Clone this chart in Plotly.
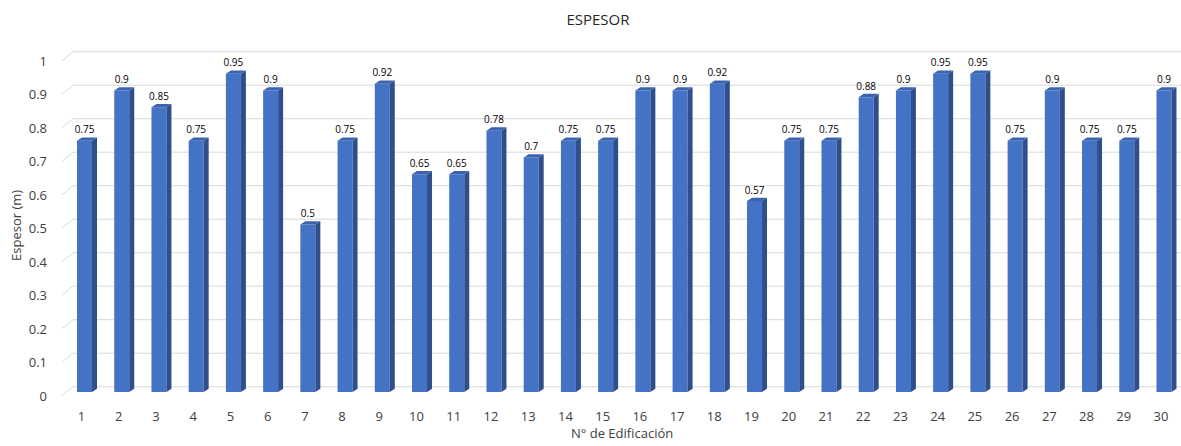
import plotly.graph_objects as go

# Building number and measured thickness (m)
edificaciones = list(range(1, 31))
espesor = [0.75, 0.9, 0.85, 0.75, 0.95, 0.9, 0.5, 0.75, 0.92, 0.65,
           0.65, 0.78, 0.7, 0.75, 0.75, 0.9, 0.9, 0.92, 0.57, 0.75,
           0.75, 0.88, 0.9, 0.95, 0.95, 0.75, 0.9, 0.75, 0.75, 0.9]
y_ticks = [0, 0.1, 0.2, 0.3, 0.4, 0.5, 0.6, 0.7, 0.8, 0.9, 1]
y_tick_text = ["0", "0.1", "0.2", "0.3", "0.4", "0.5", "0.6", "0.7", "0.8", "0.9", "1"]

FONT = "Open Sans"
FRONT = "#4472C4"
SIDE = "#2E4F8C"
TOP = "#3A64AF"
GRID = "#D9D9D9"

# geometry of the pseudo-3D columns (data units)
W = 0.403        # front face width
DX = 0.134       # depth offset to the right
DY = 0.0099      # depth offset upwards
X0, X1 = 0.395, 30.457
Y0, Y1 = -0.0239, 1.0507
WALL_DX = 0.296  # back-wall offset
WALL_DY = 0.0158
FLOOR_DY = -0.011
LABEL_DY = 0.015  # lift of value labels above the column top

fig = go.Figure()

# front faces
fig.add_trace(go.Bar(
    x=edificaciones, y=espesor, width=W,
    marker=dict(color=FRONT, line=dict(width=0)),
    hoverinfo="x+y",
))

# side faces
sx, sy = [], []
for xc, v in zip(edificaciones, espesor):
    r = xc + W / 2
    sx += [r, r + DX, r + DX, r, r, None]
    sy += [0, DY, v + DY, v, 0, None]
fig.add_trace(go.Scatter(x=sx, y=sy, mode="lines", fill="toself",
                         fillcolor=SIDE, line=dict(width=0, color=SIDE),
                         hoverinfo="skip"))

# top faces
tx, ty = [], []
for xc, v in zip(edificaciones, espesor):
    l, r = xc - W / 2, xc + W / 2
    tx += [l, l + DX, r + DX, r, l, None]
    ty += [v, v + DY, v + DY, v, v, None]
fig.add_trace(go.Scatter(x=tx, y=ty, mode="lines", fill="toself",
                         fillcolor=TOP, line=dict(width=0, color=TOP),
                         hoverinfo="skip"))

# value labels
fig.add_trace(go.Scatter(
    x=edificaciones, y=[v + LABEL_DY for v in espesor], mode="text",
    text=[f"{v:g}" for v in espesor], textposition="top center",
    textfont=dict(family=FONT, size=10, color="#000000"),
    hoverinfo="skip",
))

# back-wall gridlines with their floor stubs
shapes = []
for t in y_ticks:
    shapes.append(dict(type="line", xref="x", yref="y", layer="below",
                       x0=X0 + WALL_DX, x1=X1, y0=t + WALL_DY, y1=t + WALL_DY,
                       line=dict(color=GRID, width=1)))
    shapes.append(dict(type="line", xref="x", yref="y", layer="below",
                       x0=X0, x1=X0 + WALL_DX, y0=t + FLOOR_DY, y1=t + WALL_DY,
                       line=dict(color=GRID, width=1)))

fig.update_layout(
    width=1181, height=446,
    margin=dict(l=62, r=0, t=40, b=46),
    paper_bgcolor="white", plot_bgcolor="white",
    showlegend=False,
    shapes=shapes,
    title=dict(text="ESPESOR", x=598 / 1181, xanchor="center",
               y=1 - 20 / 446, yanchor="middle",
               font=dict(family=FONT, size=15, color="#262626")),
    xaxis=dict(range=[X0, X1], tickmode="array", tickvals=edificaciones,
               ticktext=[str(e) for e in edificaciones],
               showgrid=False, zeroline=False, showline=False, ticks="",
               ticklabelshift=-3, ticklabelstandoff=7,
               tickfont=dict(family=FONT, size=13, color="#404040")),
    yaxis=dict(range=[Y0, Y1], tickmode="array", tickvals=y_ticks,
               ticktext=y_tick_text,
               showgrid=False, zeroline=False, showline=False, ticks="",
               ticklabelshift=4, ticklabelstandoff=14,
               tickfont=dict(family=FONT, size=13, color="#404040")),
    annotations=[
        dict(text="Espesor (m)", xref="paper", yref="y",
             x=(16 - 62) / 1119, y=(392 - 226) / 335, textangle=-90,
             xanchor="center", yanchor="middle", showarrow=False,
             font=dict(family=FONT, size=13, color="#404040")),
        dict(text="N° de Edificación", xref="x", yref="paper",
             x=(622 - 62) / 1119 * (X1 - X0) + X0, y=-(433 - 400) / 360,
             xanchor="center", yanchor="middle", showarrow=False,
             font=dict(family=FONT, size=13, color="#404040")),
    ],
)

fig.write_html("out.html")
